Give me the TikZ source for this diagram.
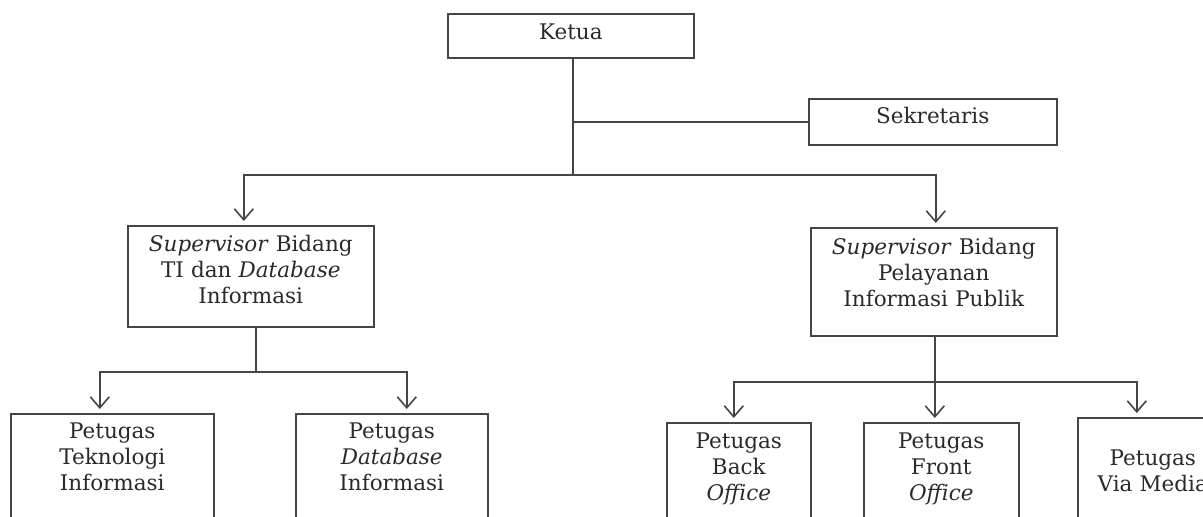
\documentclass[tikz,border=0pt]{standalone}
\usepackage{fontspec}
\setmainfont{DejaVu Serif}
\usetikzlibrary{arrows.meta}
\definecolor{ln}{HTML}{454545}
\definecolor{tx}{HTML}{2A2A2A}
\begin{document}
\begin{tikzpicture}[x=1pt,y=-1pt,
  box/.style={draw=ln,line width=1.6pt,align=center,inner sep=0pt,anchor=north west,
    text=tx,font=\fontsize{21.5}{26}\selectfont},
  link/.style={draw=ln,line width=1.6pt},
  arr/.style={link,-{Straight Barb[length=11pt,width=19pt]},shorten >=4pt}]
\useasboundingbox (0,0) rectangle (1203,517);
\fill[white] (0,0) rectangle (1203,517);
\clip (0,0) rectangle (1203,517);

\node[box,text width=246pt,text height=26pt,text depth=18pt] (ketua) at (447,13) {Ketua};
\node[box,text width=248pt,text height=25pt,text depth=21pt] (sek) at (808,98) {Sekretaris};
\node[box,text width=246pt,text height=26pt,text depth=75pt] (supL) at (127,225)
  {\textit{Supervisor} Bidang\\TI dan \textit{Database}\\Informasi};
\node[box,text width=246pt,text height=27pt,text depth=81pt] (supR) at (810,227)
  {\textit{Supervisor} Bidang\\Pelayanan\\Informasi Publik};
\node[box,text width=203pt,text height=25pt,text depth=130pt] (ti) at (10,413)
  {Petugas\\Teknologi\\Informasi};
\node[box,text width=192pt,text height=25pt,text depth=130pt] (db) at (295,413)
  {Petugas\\\textit{Database}\\Informasi};
\node[box,text width=144pt,text height=26pt,text depth=120pt] (back) at (666,422)
  {Petugas\\Back\\\textit{Office}};
\node[box,text width=155pt,text height=26pt,text depth=120pt] (front) at (863,422)
  {Petugas\\Front\\\textit{Office}};
\node[box,text width=150pt,text height=48pt,text depth=100pt] (via) at (1077,417)
  {Petugas\\Via Media};

\coordinate (j1) at ([xshift=2pt]ketua.south |- 0,175);
\coordinate (j2) at ([xshift=5pt]supL.south |- 0,372);
\coordinate (j3) at ([xshift=1pt]supR.south |- 0,382);

\draw[link] ([xshift=2pt]ketua.south) -- (j1);
\draw[link] (j1 |- sek.west) -- (sek.west);
\draw[arr] (j1) -| ([xshift=-7pt]supL.north);
\draw[arr] (j1) -| ([xshift=2pt]supR.north);

\draw[link] ([xshift=5pt]supL.south) -- (j2);
\draw[arr] (j2) -| ([xshift=-12.5pt]ti.north);
\draw[arr] (j2) -| ([xshift=15pt]db.north);

\draw[link] ([xshift=1pt]supR.south) -- (j3);
\draw[arr] (j3) -| ([xshift=-5pt]back.north);
\draw[arr] (j3) -- (j3 |- front.north);
\draw[arr] (j3) -| ([xshift=-16pt]via.north);
\end{tikzpicture}
\end{document}
